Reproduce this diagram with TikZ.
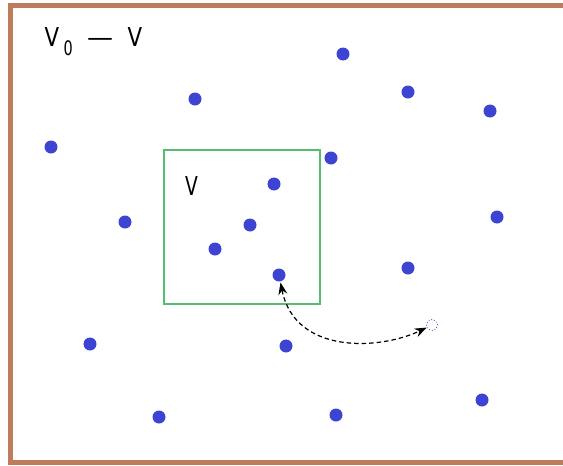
\documentclass[tikz,border=0pt]{standalone}
\usepackage{fontspec}
\setmainfont{DejaVu Sans}
\usetikzlibrary{arrows.meta}
\definecolor{framebrown}{RGB}{190,124,92}
\definecolor{dotblue}{RGB}{62,68,210}
\definecolor{boxgreen}{RGB}{84,190,110}
\tikzset{
  pt/.style={circle,fill=dotblue,inner sep=0pt,minimum size=13pt},
  hollowpt/.style={circle,draw=dotblue,dotted,line width=0.8pt,inner sep=0pt,minimum size=11pt},
  lbl/.style={inner sep=0pt,font=\fontsize{26}{28}\selectfont},
  sublbl/.style={inner sep=0pt,font=\fontsize{20}{22}\selectfont},
  move/.style={line width=1.2pt,dash pattern=on 4.5pt off 3pt,{Stealth[length=12pt,width=9pt]}-{Stealth[length=12pt,width=9pt]}}
}
\begin{document}
\begin{tikzpicture}[x=1pt,y=-1pt]
\useasboundingbox (0,0) rectangle (563,466);
\fill[white] (0,0) rectangle (563,466);
\draw[framebrown,line width=5pt] (10.5,5.5) rectangle (580,462.5);
\draw[boxgreen,line width=1.3pt] (164,150) rectangle (320,304);
\node[lbl,anchor=base west] (tV) at (44.5,46) {\scalebox{0.82}[1]{V}};
\node[sublbl,anchor=base west] (t0) at (63.5,55) {\scalebox{0.72}[1]{0}};
\node[lbl,anchor=base west] (tdash) at (87,46) {—};
\node[lbl,anchor=base west] (tV2) at (127.5,46) {\scalebox{0.82}[1]{V}};
\node[lbl,anchor=base west] (tv) at (185,195) {\scalebox{0.72}[1]{V}};
\node[pt] (d1) at (343,54) {};
\node[pt] (d2) at (408,92) {};
\node[pt] (d3) at (195,99) {};
\node[pt] (d4) at (490,111) {};
\node[pt] (d5) at (51,147) {};
\node[pt] (d6) at (331,158) {};
\node[pt] (d7) at (274,184) {};
\node[pt] (d8) at (125,222) {};
\node[pt] (d9) at (250,225) {};
\node[pt] (d10) at (497,217) {};
\node[pt] (d11) at (215,249) {};
\node[pt] (d12) at (408,268) {};
\node[pt] (d13) at (279,275) {};
\node[pt] (d14) at (90,344) {};
\node[pt] (d15) at (286,346) {};
\node[pt] (d16) at (159,417) {};
\node[pt] (d17) at (336,415) {};
\node[pt] (d18) at (482,400) {};
\node[hollowpt] (h) at (432,325) {};
\draw[move,shorten <=1pt] (d13) .. controls (295,355) and (380,350) .. (h);
\end{tikzpicture}
\end{document}
